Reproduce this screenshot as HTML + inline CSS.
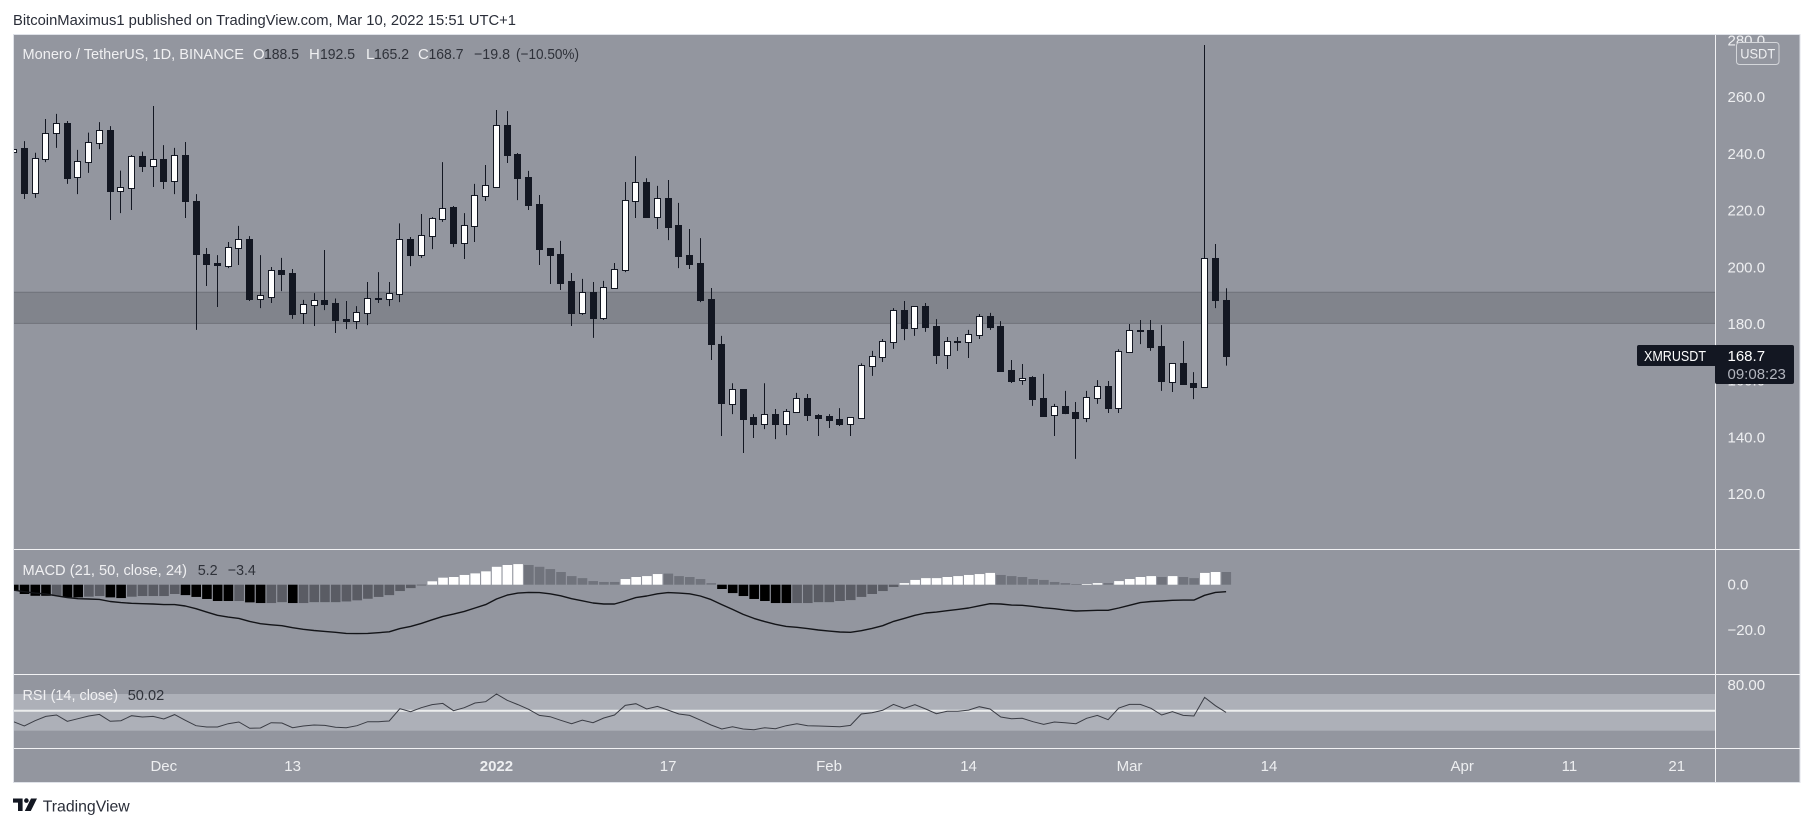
<!DOCTYPE html>
<html lang="en">
<head>
<meta charset="utf-8">
<title>XMRUSDT chart</title>
<style>
html,body{margin:0;padding:0;background:#fff;width:1813px;height:827px;overflow:hidden}
svg{display:block;font-family:"Liberation Sans",Arial,sans-serif}
.ax{font-size:15px;fill:#eeeff1}
.leg{font-size:15px;fill:#f0f0f2}
.val{font-size:15px;fill:#2f323a}
</style>
</head>
<body>
<svg id="root" xmlns="http://www.w3.org/2000/svg" width="1813" height="827" viewBox="0 0 1813 827">
  <defs>
    <clipPath id="mainClip"><rect x="14" y="35" width="1701" height="514"/></clipPath>
    <clipPath id="macdClip"><rect x="14" y="550" width="1701" height="124"/></clipPath>
    <clipPath id="rsiClip"><rect x="14" y="675" width="1701" height="73"/></clipPath>
    <clipPath id="axisClip"><rect x="1716" y="35" width="84" height="514"/></clipPath>
  </defs>

  <text x="13" y="25" font-size="15" fill="#2a2e39" textLength="503" lengthAdjust="spacingAndGlyphs">BitcoinMaximus1 published on TradingView.com, Mar 10, 2022 15:51 UTC+1</text>

  <rect x="13.5" y="34.5" width="1786.5" height="748" fill="#93969f" stroke="#dfe2e8" stroke-width="1"/>

  <g id="zoneLayer" clip-path="url(#mainClip)"></g>
  <g id="candleLayer" clip-path="url(#mainClip)"></g>
  <g id="histLayer" clip-path="url(#macdClip)"></g>
  <g id="macdLayer" clip-path="url(#macdClip)"></g>
  <g id="rsiLayer" clip-path="url(#rsiClip)"></g>

  <line x1="14" x2="1800" y1="549.5" y2="549.5" stroke="#f2f2f4" stroke-width="1"/>
  <line x1="14" x2="1800" y1="674.5" y2="674.5" stroke="#f2f2f4" stroke-width="1"/>
  <line x1="14" x2="1800" y1="748.5" y2="748.5" stroke="#f2f2f4" stroke-width="1"/>
  <line x1="1715.5" x2="1715.5" y1="35" y2="782" stroke="#f2f2f4" stroke-width="1"/>

  <g id="priceAxis" clip-path="url(#axisClip)"></g>
  <g id="macdAxis"></g>
  <g id="rsiAxis"></g>
  <g id="timeAxis"></g>

  <g>
    <text class="leg" x="22.5" y="59" textLength="221.5" lengthAdjust="spacingAndGlyphs">Monero / TetherUS, 1D, BINANCE</text>
    <text class="leg" x="253" y="59">O</text>
    <text class="val" x="264" y="59" textLength="35" lengthAdjust="spacingAndGlyphs">188.5</text>
    <text class="leg" x="309" y="59">H</text>
    <text class="val" x="320" y="59" textLength="35" lengthAdjust="spacingAndGlyphs">192.5</text>
    <text class="leg" x="366" y="59">L</text>
    <text class="val" x="374" y="59" textLength="35" lengthAdjust="spacingAndGlyphs">165.2</text>
    <text class="leg" x="418" y="59">C</text>
    <text class="val" x="428.5" y="59" textLength="35" lengthAdjust="spacingAndGlyphs">168.7</text>
    <text class="val" x="474" y="59" textLength="36" lengthAdjust="spacingAndGlyphs">−19.8</text>
    <text class="val" x="516" y="59" textLength="63" lengthAdjust="spacingAndGlyphs">(−10.50%)</text>
  </g>
  <g>
    <text class="leg" x="22.5" y="575" textLength="164.5" lengthAdjust="spacingAndGlyphs">MACD (21, 50, close, 24)</text>
    <text class="val" x="197.7" y="575" textLength="20" lengthAdjust="spacingAndGlyphs">5.2</text>
    <text class="val" x="227.8" y="575" textLength="28" lengthAdjust="spacingAndGlyphs">−3.4</text>
  </g>
  <g>
    <text class="leg" x="22.5" y="700" textLength="95.5" lengthAdjust="spacingAndGlyphs">RSI (14, close)</text>
    <text class="val" x="127.7" y="700" textLength="36.5" lengthAdjust="spacingAndGlyphs">50.02</text>
  </g>

  <g>
    <rect x="1736.5" y="42.5" width="42.5" height="22" rx="3" fill="#93969f" stroke="#d4d6da" stroke-width="1"/>
    <text x="1757.7" y="58.5" font-size="14" fill="#eeeff1" text-anchor="middle" textLength="35" lengthAdjust="spacingAndGlyphs">USDT</text>
  </g>

  <g>
    <rect x="1637" y="345" width="80" height="21" rx="2" fill="#131722"/>
    <rect x="1715" y="345" width="79" height="39" rx="2" fill="#131722"/>
    <text x="1644" y="361" font-size="15" fill="#ffffff" textLength="62" lengthAdjust="spacingAndGlyphs">XMRUSDT</text>
    <text x="1727.5" y="361" font-size="15" fill="#ffffff">168.7</text>
    <text x="1727.5" y="379" font-size="15" fill="#b2b5be">09:08:23</text>
  </g>

  <g>
    <path d="M13 798.5h9.6v12.5h-4.6v-8.4h-5z" fill="#131722"/>
    <circle cx="26.4" cy="800.6" r="2.3" fill="#131722"/>
    <path d="M31 798.5h6l-6.2 12.5h-6z" fill="#131722"/>
    <text x="42.7" y="811.5" font-size="16" fill="#2a2e39" textLength="87" lengthAdjust="spacingAndGlyphs">TradingView</text>
  </g>
</svg>
<script>
const opens=[240.7,242.0,226.2,238.2,247.4,250.8,231.9,237.2,243.9,248.3,226.9,228.0,239.2,235.7,238.1,230.4,239.5,223.3,204.6,201.3,200.5,206.8,209.8,188.8,189.5,198.9,197.9,183.9,186.7,188.4,187.3,181.6,181.1,183.9,189.0,188.8,190.6,209.8,204.2,211.1,217.0,221.0,208.6,214.6,225.0,228.3,250.0,239.7,231.6,222.2,206.7,204.6,195.0,183.8,191.2,182.0,192.6,198.9,223.4,230.0,217.7,224.3,214.8,204.2,201.4,188.7,172.8,151.8,156.9,147.1,144.7,148.1,144.7,149.0,153.8,147.8,147.4,146.4,144.7,146.9,165.2,168.4,173.4,184.8,178.6,186.2,179.2,169.1,173.9,173.7,176.1,182.7,179.2,163.7,160.3,161.2,153.8,147.9,151.0,148.9,146.9,153.9,158.0,150.4,170.1,177.8,177.8,172.1,159.5,166.1,159.0,157.8,203.2,188.5];
const highs=[244.8,244.4,240.3,252.2,254.0,251.5,241.3,247.4,251.1,249.7,234.0,239.5,240.7,256.8,243.0,242.0,244.1,225.7,206.7,204.2,208.8,214.5,210.9,204.2,200.0,203.2,199.3,188.4,190.8,206.0,188.9,188.0,186.2,194.7,198.2,194.7,215.4,210.6,218.7,217.6,237.0,221.5,219.0,229.3,236.0,255.4,255.0,240.2,233.9,225.4,206.7,209.2,197.9,195.8,194.7,195.1,201.4,230.0,239.1,231.3,228.6,230.7,222.6,213.4,210.2,192.6,175.7,159.0,156.9,148.1,159.0,149.9,149.9,155.6,155.2,148.1,148.1,150.2,147.0,166.0,170.4,174.6,185.5,188.0,186.1,187.3,181.6,175.3,175.3,177.8,183.4,183.8,180.9,167.2,165.8,161.5,162.3,151.7,156.3,152.4,156.3,160.1,159.8,171.0,179.9,181.3,181.3,179.5,166.0,173.9,162.9,278.3,208.1,192.5];
const lows=[230.7,224.0,224.4,237.0,242.0,229.3,225.7,233.2,241.6,216.6,219.0,220.1,233.5,228.2,227.5,225.7,217.3,177.8,193.3,185.9,199.6,200.7,188.0,185.5,187.3,191.5,181.7,179.9,179.2,184.8,176.7,178.1,178.1,179.5,187.3,186.2,187.6,200.3,203.2,206.3,215.9,207.0,202.8,208.8,223.3,228.3,236.7,223.6,220.1,200.7,194.0,191.9,179.2,183.1,175.0,181.3,192.6,198.2,217.3,217.3,213.4,209.5,199.6,199.3,187.6,167.2,140.4,148.1,134.4,139.7,142.8,139.3,140.7,149.0,145.7,140.4,143.2,143.9,140.4,146.9,161.6,166.5,171.1,174.2,175.7,177.1,165.8,164.0,170.4,167.9,174.6,177.8,163.0,159.1,158.4,151.0,147.1,140.4,148.1,132.3,145.3,151.7,148.5,148.5,170.1,172.8,170.4,156.3,155.9,158.7,153.4,157.3,185.5,165.2];
const closes=[241.5,226.2,238.3,247.1,250.7,231.4,237.3,244.0,248.2,226.9,228.1,239.2,235.6,238.0,230.3,239.4,223.3,204.6,201.0,200.7,206.9,209.8,188.7,190.0,198.8,197.5,183.4,186.8,188.2,186.9,181.3,180.9,184.0,188.9,188.7,190.7,209.8,204.2,211.2,217.2,220.7,208.5,214.7,225.3,228.8,250.0,239.5,231.4,221.9,206.3,204.2,194.4,183.8,191.2,182.0,192.8,199.3,223.6,230.0,217.6,224.2,214.1,203.9,201.0,188.4,172.8,152.0,156.8,146.4,144.6,148.0,144.6,149.1,153.7,147.8,146.7,146.0,144.6,147.0,165.3,168.5,173.8,185.0,178.5,186.1,178.8,169.0,173.8,173.5,176.2,182.6,178.8,163.3,159.8,161.0,153.4,147.4,150.9,148.5,146.7,154.0,157.9,150.3,170.2,177.7,177.4,171.8,159.8,166.0,158.7,157.7,203.05,188.4,168.7];

const histValues=[-2.6,-4.1,-4.9,-4.9,-4.9,-5.6,-5.6,-5.3,-5,-5.6,-5.9,-5.3,-5,-5,-5,-4.1,-4.6,-5.4,-6.3,-7.2,-7.2,-7.2,-7.8,-8.1,-8.1,-7.7,-8.1,-8.1,-7.7,-7.7,-7.7,-7.4,-6.9,-6.2,-5.4,-4.6,-2.8,-1.5,-0.3,1.5,3.1,3.4,4.3,5,5.9,7.9,8.7,9.1,8.7,7.9,6.9,5.6,3.8,2.9,1.6,1.2,1.2,2.5,3.4,3.8,4.7,4.9,3.8,3.4,2.5,0.7,-1.9,-3.7,-5,-6.3,-7.2,-8.1,-8.1,-8.1,-8.1,-7.7,-7.7,-7.2,-6.8,-5.4,-4.1,-2.8,-1,0.7,2.1,2.9,2.9,3.4,3.8,4.3,4.7,5.2,4.3,3.8,3.4,2.5,2.1,1.2,0.7,0.3,0.3,0.7,0.7,1.6,2.5,3.4,3.8,3.4,3.8,3.4,2.9,5.2,5.6,5.6];
const histGrowing=[1,1,1,1,0,1,1,0,0,1,1,0,0,0,0,0,1,1,1,1,1,0,1,1,0,0,1,0,0,0,0,0,0,0,0,0,0,0,0,1,1,1,1,1,1,1,1,1,0,0,0,0,0,0,0,0,0,1,1,1,1,0,0,0,0,0,1,1,1,1,1,1,1,0,0,0,0,0,0,0,0,0,0,1,1,1,1,1,1,1,1,1,0,0,0,0,0,0,0,0,1,1,0,1,1,1,1,0,1,0,0,1,1,0];
const macdValues=[-2.4,-3.1,-3.7,-4.1,-4.9,-5.7,-6.2,-6.3,-6.5,-7.4,-7.9,-8.2,-8.4,-8.5,-8.8,-8.8,-9.4,-10.6,-12.1,-13.5,-14.3,-14.9,-16.2,-17.2,-17.7,-18.1,-19,-19.7,-20.2,-20.6,-21,-21.5,-21.6,-21.5,-21.2,-20.8,-19.4,-18.4,-17.1,-15.5,-14,-13,-11.8,-10.3,-8.8,-6.3,-4.6,-3.7,-3.4,-3.5,-4,-4.9,-6.2,-7.1,-8.1,-8.5,-8.5,-7.2,-5.7,-5,-4,-3.5,-3.7,-4,-5,-6.6,-8.8,-10.9,-13.1,-14.9,-16.3,-17.5,-18.4,-18.8,-19.4,-20,-20.5,-20.9,-21,-20.3,-19.3,-18.1,-16.2,-14.9,-13.5,-12.5,-12.1,-11.5,-10.9,-10.3,-9.3,-8.4,-8.5,-9,-9.1,-9.6,-10.2,-10.6,-11.2,-11.6,-11.5,-11.3,-11.3,-10.3,-9.1,-7.9,-7.4,-7.2,-6.9,-6.8,-6.8,-4.7,-3.4,-3.1];
const rsiValues=[39.8,35.1,40.9,45.6,47.1,40.2,43.1,46,47.8,40.2,40.9,46.4,44.9,45.6,42.7,47.5,41.3,35.5,34,34,37.6,39.5,32.6,32.9,38.7,38.4,33.3,35.1,36.2,35.8,33.7,33.3,35.5,39.8,39.8,40.6,54,50.7,55.1,58.4,59.8,51.8,55.1,60.2,61.6,70,63.1,58.4,53.3,46.7,45.3,41.3,37.6,41.6,38.7,43.8,47.1,57.6,59.4,53.6,56.5,52.5,48.2,46.7,41.6,36.2,31.8,34.4,31.8,31.1,33.3,32.2,35.5,37.6,35.5,35.1,34.7,34.4,35.8,48.2,49.6,52.2,58.7,54.4,58.4,53.6,48.5,51.1,51.1,52.5,56.2,53.6,44.9,43.1,43.5,39.8,36.9,39.5,38.7,37.6,43.5,46.7,42,54.7,58.7,58.7,54.4,47.1,50.7,46.7,46,66.3,57.3,50];

const zoneBounds=[191.1,180.1];
const rsiBand=[70,30];
const rsiGuide=[51.8];
const priceTicks=[280,260,240,220,200,180,160,140,120];
const macdTicks=[0,-20];
const macdTickLabels=['0.0','−20.0'];
const rsiTicks=[80];
const timeLabels=['Dec','13','2022','17','Feb','14','Mar','14','Apr','11','21'];
const timeBars=[14,26,45,61,76,89,104,117,135,145,155];

const NS='http://www.w3.org/2000/svg';
const xAt=i=>13.6+10.73*i;
const yPrice=p=>323.7-(p-180)*2.835;
const yMacd=v=>584.7-v*2.265;
const yRsi=v=>712.35-(v-50)*0.9175;
function make(tag,parent,attrs){
  const el=document.createElementNS(NS,tag);
  for(const k in attrs){el.setAttribute(k,attrs[k]);}
  parent.appendChild(el);
  return el;
}

const zoneLayer=document.getElementById('zoneLayer');
const zoneRect=make('rect',zoneLayer,{x:14,y:yPrice(zoneBounds[0]),width:1701,height:yPrice(zoneBounds[1])-yPrice(zoneBounds[0]),fill:'#81848c'});


zoneBounds.forEach(function(b){
  const edge=make('line',zoneLayer,{x1:14,x2:1715,y1:yPrice(b),y2:yPrice(b),stroke:'#6f727a','stroke-width':1});
  
  
});

const candleLayer=document.getElementById('candleLayer');
opens.forEach(function(o,i){
  const c=closes[i];
  const up=c>=o;
  const cx=Math.floor(xAt(i));
  const g=make('g',candleLayer,{});
  
  
  const wick=make('line',g,{x1:cx+.5,x2:cx+.5,y1:yPrice(highs[i]),y2:yPrice(lows[i]),stroke:'#131722','stroke-width':1});
  
  
  const top=Math.round(yPrice(Math.max(o,c)));
  const bot=Math.round(yPrice(Math.min(o,c)));
  const h=Math.max(bot-top,1);
  const body=up
    ? make('rect',g,{x:cx-2.5,y:top+.5,width:6,height:h,fill:'#ffffff',stroke:'#131722','stroke-width':1})
    : make('rect',g,{x:cx-3,y:top,width:7,height:h+1,fill:'#131722'});
  
  
});

const histLayer=document.getElementById('histLayer');
histValues.forEach(function(v,i){
  const growing=histGrowing[i]===1;
  const fill=v>=0?(growing?'#ffffff':'#70737c'):(growing?'#000000':'#5a5c64');
  const y0=yMacd(0),y1=yMacd(v);
  const bar=make('rect',histLayer,{x:xAt(i)-4.6,y:Math.min(y0,y1),width:9.6,height:Math.max(Math.abs(y1-y0),.6),fill:fill});
  
  
});

const macdLayer=document.getElementById('macdLayer');
const macdLine=make('polyline',macdLayer,{points:macdValues.map((v,i)=>xAt(i).toFixed(1)+','+yMacd(v).toFixed(1)).join(' '),fill:'none',stroke:'#131418','stroke-width':1.4,'stroke-linejoin':'round'});



const rsiLayer=document.getElementById('rsiLayer');
const bandRect=make('rect',rsiLayer,{x:14,y:yRsi(rsiBand[0]),width:1701,height:yRsi(rsiBand[1])-yRsi(rsiBand[0]),fill:'#adb0b8'});


const guide=make('line',rsiLayer,{x1:14,x2:1715,y1:yRsi(rsiGuide[0]),y2:yRsi(rsiGuide[0]),stroke:'#eceded','stroke-width':2});


const rsiLine=make('polyline',rsiLayer,{points:rsiValues.map((v,i)=>xAt(i).toFixed(1)+','+yRsi(v).toFixed(1)).join(' '),fill:'none',stroke:'#3a3c44','stroke-width':1});



const priceAxis=document.getElementById('priceAxis');
priceTicks.forEach(function(p){
  const t=make('text',priceAxis,{class:'ax',x:1727.5,y:yPrice(p)+5.3});
  t.textContent=p.toFixed(1);
  
  
});
const macdAxis=document.getElementById('macdAxis');
macdTicks.forEach(function(v,i){
  const t=make('text',macdAxis,{class:'ax',x:1727.5,y:yMacd(v)+5});
  t.textContent=macdTickLabels[i];
  
  
});
const rsiAxis=document.getElementById('rsiAxis');
rsiTicks.forEach(function(v){
  const t=make('text',rsiAxis,{class:'ax',x:1727.5,y:yRsi(v)+5.3});
  t.textContent=v.toFixed(2);
  
  
});
const timeAxis=document.getElementById('timeAxis');
timeLabels.forEach(function(label,i){
  const t=make('text',timeAxis,{class:'ax',x:xAt(timeBars[i]),y:771,'text-anchor':'middle'});
  if(label==='2022'){t.setAttribute('font-weight','bold');}
  t.textContent=label;
  
  
});
</script>
</body>
</html>
